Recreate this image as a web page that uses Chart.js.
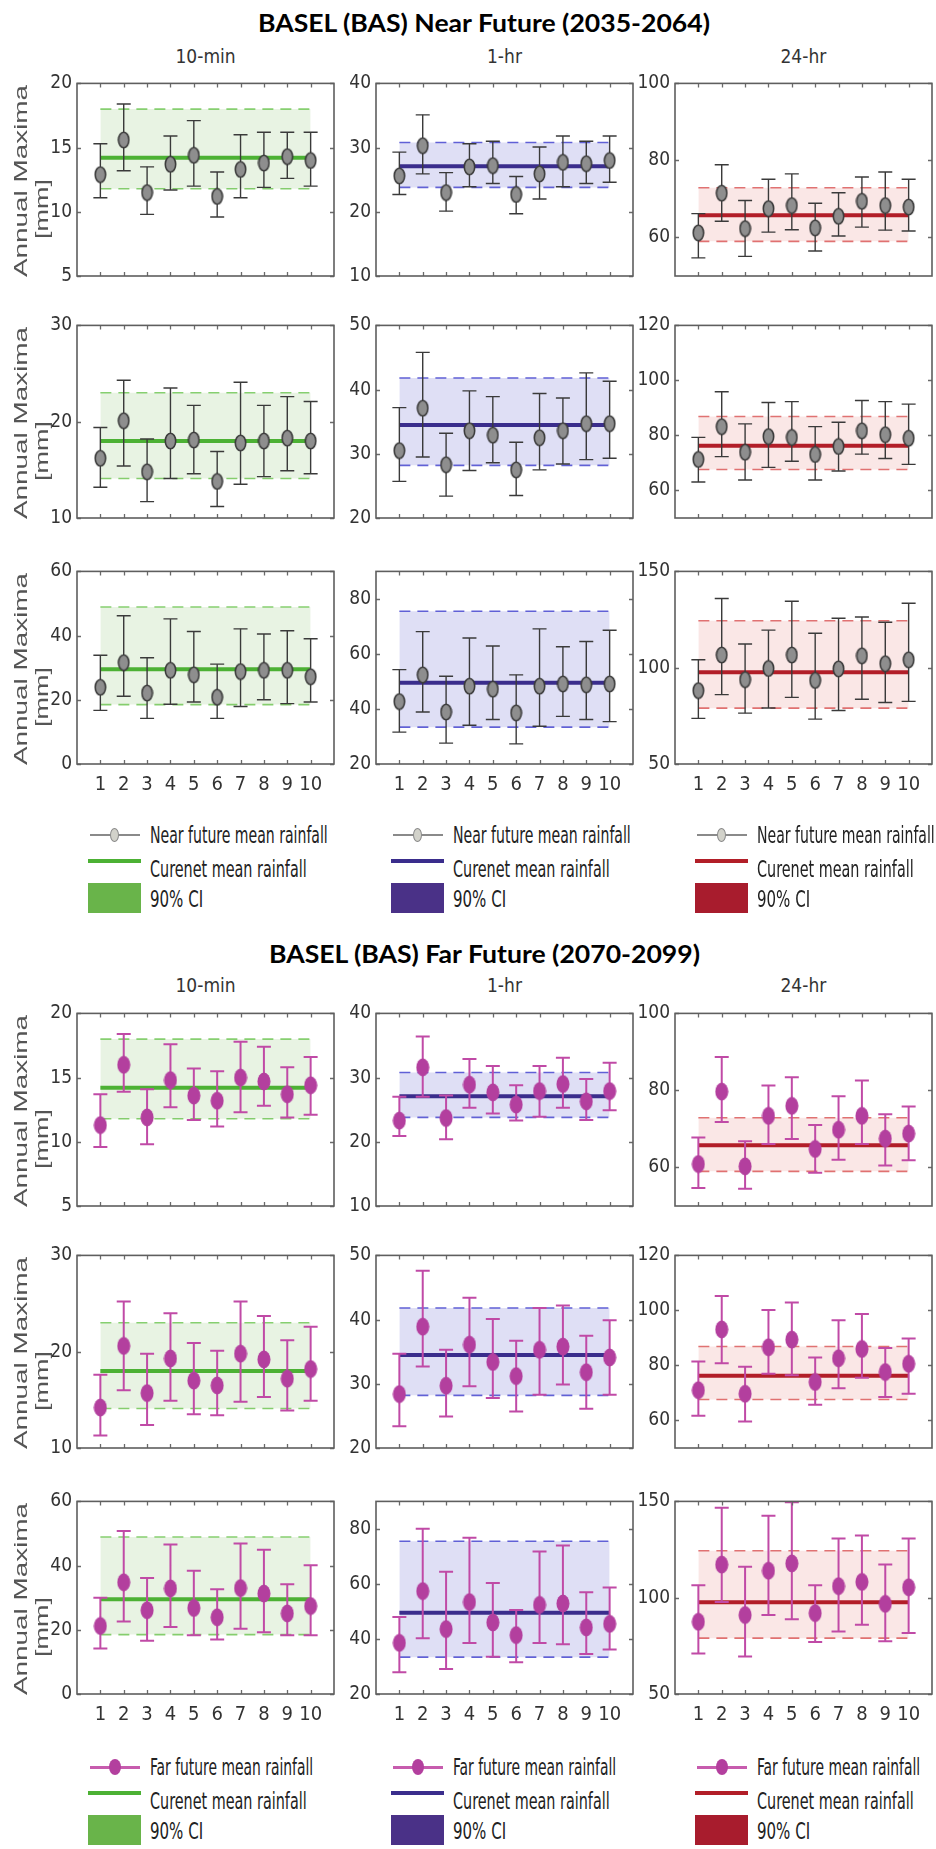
<!DOCTYPE html>
<html>
<head>
<meta charset="utf-8">
<script src="https://cdn.jsdelivr.net/npm/chart.js@4.4.1/dist/chart.umd.min.js"></script>
<style>
html,body{margin:0;padding:0;background:#fff;}
body{width:936px;height:1849px;position:relative;overflow:hidden;}
canvas{position:absolute;}
.lg{position:absolute;}
</style>
</head>
<body>
<script>
// ---------------- DATA ----------------
const xCats = [1, 2, 3, 4, 5, 6, 7, 8, 9, 10];
const durations = ['10-min', '1-hr', '24-hr'];
const sectionTitles = ['BASEL (BAS) Near Future (2035-2064)', 'BASEL (BAS) Far Future (2070-2099)'];

// current climate (shared by both sections): rows 1..3
const current_10min_mean = [14.2, 18.0, 29.5];
const current_10min_ciLo = [11.8, 14.1, 18.5];
const current_10min_ciHi = [18.0, 23.0, 48.9];
const current_1hr_mean = [27.1, 34.5, 49.5];
const current_1hr_ciLo = [23.8, 28.2, 33.4];
const current_1hr_ciHi = [30.8, 41.8, 75.5];
const current_24hr_mean = [65.8, 76.3, 97.6];
const current_24hr_ciLo = [59.0, 67.6, 79.0];
const current_24hr_ciHi = [72.9, 86.9, 124.4];

// y axis limits and tick labels per column, rows 1..3
const yRange_10min = [[5, 20], [10, 30], [0, 60]];
const yTicks_10min = [[5, 10, 15, 20], [10, 20, 30], [0, 20, 40, 60]];
const yRange_1hr = [[10, 40], [20, 50], [20, 90]];
const yTicks_1hr = [[10, 20, 30, 40], [20, 30, 40, 50], [20, 40, 60, 80]];
const yRange_24hr = [[50, 100], [50, 120], [50, 150]];
const yTicks_24hr = [[60, 80, 100], [60, 80, 100, 120], [50, 100, 150]];

// Near future
const near_10min_r1_mean = [12.9, 15.6, 11.5, 13.7, 14.4, 11.2, 13.3, 13.8, 14.3, 14.0];
const near_10min_r1_hi   = [15.3, 18.4, 13.5, 15.9, 17.1, 13.1, 16.0, 16.2, 16.2, 16.2];
const near_10min_r1_lo   = [11.1, 13.2, 9.8, 11.7, 12.0, 9.6, 11.1, 11.9, 12.6, 12.0];
const near_1hr_r1_mean = [25.6, 30.3, 23.0, 27.0, 27.2, 22.7, 25.9, 27.7, 27.5, 28.0];
const near_1hr_r1_hi   = [29.3, 35.1, 26.1, 30.6, 31.0, 25.5, 30.1, 31.8, 31.0, 31.8];
const near_1hr_r1_lo   = [22.7, 25.9, 20.1, 23.9, 24.4, 19.7, 22.0, 23.9, 24.4, 24.6];
const near_24hr_r1_mean = [61.2, 71.5, 62.3, 67.5, 68.3, 62.5, 65.5, 69.4, 68.3, 67.9];
const near_24hr_r1_hi   = [66.2, 78.9, 69.6, 75.1, 76.5, 68.9, 71.6, 75.7, 77.0, 75.1];
const near_24hr_r1_lo   = [54.7, 64.2, 55.1, 61.4, 62.0, 56.5, 60.4, 62.7, 61.9, 61.7];

const near_10min_r2_mean = [16.2, 20.1, 14.8, 18.0, 18.1, 13.8, 17.8, 18.0, 18.3, 18.0];
const near_10min_r2_hi   = [19.4, 24.3, 18.2, 23.5, 21.7, 16.9, 24.1, 21.7, 22.6, 22.1];
const near_10min_r2_lo   = [13.2, 15.4, 11.7, 14.1, 14.6, 11.2, 13.5, 14.3, 14.9, 14.6];
const near_1hr_r2_mean = [30.5, 37.1, 28.3, 33.6, 32.9, 27.5, 32.5, 33.6, 34.7, 34.7];
const near_1hr_r2_hi   = [37.2, 45.8, 33.2, 39.8, 38.9, 31.8, 39.4, 38.7, 42.6, 41.3];
const near_1hr_r2_lo   = [25.7, 29.5, 23.4, 27.4, 28.6, 23.5, 27.5, 28.4, 29.1, 29.3];
const near_24hr_r2_mean = [71.3, 83.2, 73.9, 79.6, 79.3, 73.1, 76.0, 81.7, 80.3, 79.0];
const near_24hr_r2_hi   = [79.3, 95.9, 84.2, 92.0, 92.3, 83.2, 84.8, 92.7, 92.3, 91.4];
const near_24hr_r2_lo   = [63.1, 72.3, 63.8, 68.4, 70.6, 63.8, 67.1, 73.2, 71.6, 69.5];

const near_10min_r3_mean = [23.9, 31.6, 22.1, 29.2, 27.8, 20.8, 28.8, 29.2, 29.2, 27.2];
const near_10min_r3_hi   = [33.9, 46.2, 33.1, 45.2, 41.3, 31.1, 42.1, 40.5, 41.5, 39.0];
const near_10min_r3_lo   = [16.7, 21.1, 14.2, 18.6, 19.3, 14.2, 17.9, 20.0, 18.8, 19.3];
const near_1hr_r3_mean = [42.7, 52.4, 38.9, 48.3, 47.2, 38.6, 48.3, 49.1, 48.8, 49.1];
const near_1hr_r3_hi   = [54.3, 68.1, 51.9, 65.8, 62.9, 52.4, 69.1, 62.6, 64.5, 68.6];
const near_1hr_r3_lo   = [31.6, 38.9, 27.6, 34.1, 36.2, 27.3, 33.7, 37.3, 36.2, 35.4];
const near_24hr_r3_mean = [88.1, 106.6, 93.8, 99.6, 106.6, 93.4, 99.4, 106.2, 102.1, 104.1];
const near_24hr_r3_hi   = [104.1, 135.9, 112.3, 119.5, 134.5, 117.9, 125.7, 126.3, 123.6, 133.5];
const near_24hr_r3_lo   = [73.7, 86.0, 76.4, 79.1, 84.6, 73.3, 77.8, 83.6, 81.9, 82.5];

// Far future
const far_10min_r1_mean = [11.3, 16.0, 11.9, 14.8, 13.6, 13.2, 15.0, 14.7, 13.7, 14.4];
const far_10min_r1_hi   = [13.7, 18.4, 14.1, 17.6, 15.7, 15.5, 17.8, 17.4, 15.8, 16.6];
const far_10min_r1_lo   = [9.6, 13.9, 9.8, 12.7, 11.7, 11.2, 12.3, 12.8, 11.9, 12.1];
const far_1hr_r1_mean = [23.3, 31.6, 23.7, 28.9, 27.7, 25.8, 27.9, 29.0, 26.3, 27.9];
const far_1hr_r1_hi   = [27.0, 36.4, 27.2, 32.9, 31.8, 28.8, 31.8, 33.1, 29.8, 32.3];
const far_1hr_r1_lo   = [20.9, 27.0, 20.4, 25.3, 24.4, 23.3, 23.9, 25.3, 23.4, 24.9];
const far_24hr_r1_mean = [60.9, 79.7, 60.3, 73.4, 76.0, 64.8, 69.8, 73.4, 67.5, 68.8];
const far_24hr_r1_hi   = [67.8, 88.7, 66.8, 81.3, 83.4, 71.0, 78.5, 82.6, 73.8, 75.8];
const far_24hr_r1_lo   = [54.7, 71.8, 54.5, 66.1, 67.4, 58.6, 62.0, 66.1, 60.5, 61.9];

const far_10min_r2_mean = [14.2, 20.6, 15.7, 19.3, 17.0, 16.5, 19.8, 19.2, 17.2, 18.2];
const far_10min_r2_hi   = [17.6, 25.2, 19.8, 24.0, 20.9, 20.1, 25.2, 23.7, 21.2, 22.6];
const far_10min_r2_lo   = [11.3, 16.0, 12.4, 14.9, 13.5, 13.4, 14.8, 15.3, 13.9, 14.9];
const far_1hr_r2_mean = [28.4, 38.9, 29.7, 36.1, 33.4, 31.2, 35.3, 35.8, 31.8, 34.1];
const far_1hr_r2_hi   = [34.7, 47.6, 35.3, 43.4, 40.1, 36.7, 41.8, 42.2, 37.5, 39.9];
const far_1hr_r2_lo   = [23.4, 32.7, 24.9, 29.6, 27.8, 25.7, 28.3, 29.9, 26.1, 28.3];
const far_24hr_r2_mean = [71.0, 93.1, 69.7, 86.6, 89.4, 74.0, 82.6, 86.0, 77.6, 80.6];
const far_24hr_r2_hi   = [81.4, 105.2, 79.5, 100.2, 102.9, 82.9, 96.4, 98.7, 86.3, 89.8];
const far_24hr_r2_lo   = [61.7, 80.8, 59.6, 77.0, 76.4, 65.7, 71.7, 75.5, 68.5, 69.7];

const far_10min_r3_mean = [21.2, 34.8, 26.1, 32.9, 26.8, 23.9, 33.0, 31.3, 25.1, 27.4];
const far_10min_r3_hi   = [30.0, 50.8, 36.1, 46.6, 38.4, 32.6, 46.9, 44.9, 34.2, 40.1];
const far_10min_r3_lo   = [14.2, 22.6, 16.6, 20.9, 18.3, 17.0, 20.3, 19.2, 18.3, 18.3];
const far_1hr_r3_mean = [38.6, 57.4, 43.6, 53.4, 46.0, 41.4, 52.4, 52.9, 44.2, 45.5];
const far_1hr_r3_hi   = [48.0, 80.1, 64.4, 76.8, 60.3, 50.5, 71.8, 74.0, 57.0, 58.7];
const far_1hr_r3_lo   = [27.9, 40.3, 29.1, 38.5, 33.5, 31.5, 38.5, 38.1, 34.5, 36.2];
const far_24hr_r3_mean = [87.5, 117.2, 91.0, 114.0, 117.8, 92.0, 106.0, 108.2, 96.8, 105.4];
const far_24hr_r3_hi   = [106.5, 146.7, 116.1, 142.6, 149.5, 106.5, 130.8, 132.3, 117.2, 130.8];
const far_24hr_r3_lo   = [71.0, 97.8, 69.5, 91.0, 88.8, 77.0, 82.4, 86.0, 77.4, 81.7];

const legendFutureLabels = ['Near future mean rainfall', 'Far future mean rainfall'];
const legendCurrentLabel = 'Curenet mean rainfall';
const legendCILabel = '90% CI';

// ---------------- TABLES BUILT FROM DATA ----------------
const sets = [
  [ // near
    [[near_10min_r1_mean, near_10min_r1_hi, near_10min_r1_lo], [near_10min_r2_mean, near_10min_r2_hi, near_10min_r2_lo], [near_10min_r3_mean, near_10min_r3_hi, near_10min_r3_lo]],
    [[near_1hr_r1_mean, near_1hr_r1_hi, near_1hr_r1_lo], [near_1hr_r2_mean, near_1hr_r2_hi, near_1hr_r2_lo], [near_1hr_r3_mean, near_1hr_r3_hi, near_1hr_r3_lo]],
    [[near_24hr_r1_mean, near_24hr_r1_hi, near_24hr_r1_lo], [near_24hr_r2_mean, near_24hr_r2_hi, near_24hr_r2_lo], [near_24hr_r3_mean, near_24hr_r3_hi, near_24hr_r3_lo]]
  ],
  [ // far
    [[far_10min_r1_mean, far_10min_r1_hi, far_10min_r1_lo], [far_10min_r2_mean, far_10min_r2_hi, far_10min_r2_lo], [far_10min_r3_mean, far_10min_r3_hi, far_10min_r3_lo]],
    [[far_1hr_r1_mean, far_1hr_r1_hi, far_1hr_r1_lo], [far_1hr_r2_mean, far_1hr_r2_hi, far_1hr_r2_lo], [far_1hr_r3_mean, far_1hr_r3_hi, far_1hr_r3_lo]],
    [[far_24hr_r1_mean, far_24hr_r1_hi, far_24hr_r1_lo], [far_24hr_r2_mean, far_24hr_r2_hi, far_24hr_r2_lo], [far_24hr_r3_mean, far_24hr_r3_hi, far_24hr_r3_lo]]
  ]
];
const currentMean = [current_10min_mean, current_1hr_mean, current_24hr_mean];
const currentLo = [current_10min_ciLo, current_1hr_ciLo, current_24hr_ciLo];
const currentHi = [current_10min_ciHi, current_1hr_ciHi, current_24hr_ciHi];
const yRanges = [yRange_10min, yRange_1hr, yRange_24hr];
const yTickSets = [yTicks_10min, yTicks_1hr, yTicks_24hr];

// ---------------- STYLE / LAYOUT ----------------
const NARROW = "'Liberation Sans Narrow', 'DejaVu Sans Condensed', 'Arial Narrow', sans-serif";
const COL_L = [77, 376, 675], COL_W = 257;
const ROW_T = [81, 323, 569], ROW_H = 195;
const SEC_DY = [0, 930];
const colStyle = [
  {line: '#4cb134', dash: '#86cf70', band: 'rgba(120,185,90,0.17)', patch: '#69b44a'},
  {line: '#3a2d8c', dash: '#6060d6', band: 'rgba(120,120,215,0.24)', patch: '#4a3187'},
  {line: '#b21e28', dash: '#e07272', band: 'rgba(225,115,105,0.17)', patch: '#a81c2d'}
];
const secStyle = [
  {bar: '#3a3a3a', barW: 1.4, marker: null, legendLine: '#8a8a8a', legendLineW: 1.5},
  {bar: '#c04aa6', barW: 2, marker: null, legendLine: '#c75cae', legendLineW: 3}
];

function makeEllipse(w, h, fill, stroke, lw) {
  const c = document.createElement('canvas');
  c.width = w; c.height = h;
  const g = c.getContext('2d');
  const m = (lw || 0) / 2 + 0.5;
  g.beginPath();
  g.ellipse(w / 2, h / 2, w / 2 - m, h / 2 - m, 0, 0, Math.PI * 2);
  g.fillStyle = fill; g.fill();
  if (stroke) { g.lineWidth = lw; g.strokeStyle = stroke; g.stroke(); }
  return c;
}
secStyle[0].marker = makeEllipse(13, 18, '#8e8e8e', '#3c3c3c', 1.6);
secStyle[1].marker = makeEllipse(14, 19, '#b33f9e', null, 0);

Chart.defaults.font.family = NARROW;
Chart.defaults.color = '#333';

const framePlugin = {
  id: 'frame',
  afterDatasetsDraw(chart) {
    const {ctx, chartArea: a, scales: {x, y}} = chart;
    ctx.save();
    ctx.strokeStyle = '#6a6a6a';
    ctx.lineWidth = 1.3;
    ctx.beginPath();
    x.ticks.forEach(t => {
      const px = Math.round(x.getPixelForValue(t.value)) + 0.5;
      ctx.moveTo(px, a.bottom); ctx.lineTo(px, a.bottom - 4);
      ctx.moveTo(px, a.top); ctx.lineTo(px, a.top + 4);
    });
    y.ticks.forEach(t => {
      const py = Math.round(y.getPixelForValue(t.value)) + 0.5;
      ctx.moveTo(a.left, py); ctx.lineTo(a.left + 4, py);
      ctx.moveTo(a.right, py); ctx.lineTo(a.right - 4, py);
    });
    ctx.stroke();
    ctx.lineWidth = 1.6;
    ctx.strokeStyle = '#5e5e5e';
    ctx.strokeRect(a.left, a.top, a.width, a.height);
    ctx.restore();
  }
};

function panel(sec, col, row) {
  const L = COL_L[col], T = ROW_T[row] + SEC_DY[sec];
  const PADL = 70, PADT = 14, PADR = 14, PADB = 40;
  const cv = document.createElement('canvas');
  cv.width = COL_W + PADL + PADR;
  cv.height = ROW_H + PADT + PADB;
  cv.style.left = (L - PADL) + 'px';
  cv.style.top = (T - PADT) + 'px';
  cv.style.width = cv.width + 'px';
  cv.style.height = cv.height + 'px';
  document.body.appendChild(cv);

  const [mean, hi, lo] = sets[sec][col][row];
  const cs = colStyle[col], ss = secStyle[sec];
  const first = xCats[0], last = xCats[xCats.length - 1];

  const markers = xCats.map((x, i) => ({x, y: mean[i]}));
  const bars = [];
  xCats.forEach((x, i) => { bars.push({x, y: lo[i]}, {x, y: hi[i]}, {x, y: null}); });
  const meanLine = [{x: first, y: currentMean[col][row]}, {x: last, y: currentMean[col][row]}];
  const ciHi = [{x: first, y: currentHi[col][row]}, {x: last, y: currentHi[col][row]}];
  const ciLo = [{x: first, y: currentLo[col][row]}, {x: last, y: currentLo[col][row]}];

  new Chart(cv, {
    type: 'line',
    data: {
      datasets: [
        {data: markers, showLine: false, pointStyle: ss.marker, pointRadius: 7, borderWidth: 0},
        {data: bars, spanGaps: false, borderColor: ss.bar, borderWidth: ss.barW, pointStyle: 'line',
          pointRadius: 7, pointBorderWidth: ss.barW, pointBorderColor: ss.bar, fill: false},
        {data: meanLine, borderColor: cs.line, borderWidth: 4, pointRadius: 0, fill: false},
        {data: ciHi, borderColor: cs.dash, borderWidth: 1.6, borderDash: [11, 7], pointRadius: 0,
          fill: '+1', backgroundColor: cs.band},
        {data: ciLo, borderColor: cs.dash, borderWidth: 1.6, borderDash: [11, 7], pointRadius: 0, fill: false}
      ]
    },
    options: {
      responsive: false,
      animation: false,
      events: [],
      devicePixelRatio: 1,
      layout: {padding: {left: 0, top: PADT, right: PADR, bottom: 0}},
      plugins: {legend: {display: false}, tooltip: {enabled: false}},
      scales: {
        x: {
          type: 'linear', min: 0, max: 11,
          grid: {display: false, drawTicks: false},
          border: {display: false},
          afterBuildTicks: s => { s.ticks = xCats.map(v => ({value: v})); },
          afterFit: s => { s.height = PADB; },
          ticks: {display: row === 2, padding: 9, font: {size: 20, family: NARROW}, color: '#333', maxRotation: 0, autoSkip: false}
        },
        y: {
          min: yRanges[col][row][0], max: yRanges[col][row][1],
          grid: {display: false, drawTicks: false},
          border: {display: false},
          afterBuildTicks: s => { s.ticks = yTickSets[col][row].map(v => ({value: v})); },
          afterFit: s => { s.width = PADL; },
          ticks: {padding: 5, font: {size: 19, family: NARROW}, color: '#333', autoSkip: false}
        }
      }
    },
    plugins: [framePlugin]
  });
}

// ---------------- TEXT HELPERS ----------------
function addText(txt, x, y, size, opts) {
  opts = opts || {};
  const el = document.createElement('div');
  el.textContent = txt;
  el.style.cssText = 'position:absolute;left:0;top:0;white-space:nowrap;line-height:1;' +
    'font-size:' + size + 'px;font-family:' + (opts.family || NARROW) + ';font-weight:' + (opts.weight || 400) +
    ';color:' + (opts.color || '#333') + ';';
  document.body.appendChild(el);
  const w = el.offsetWidth, h = el.offsetHeight;
  const s = opts.width ? opts.width / w : 1;
  if (opts.align === 'left') {
    el.style.left = x + 'px';
    el.style.top = (y - h / 2) + 'px';
    el.style.transformOrigin = '0 50%';
    el.style.transform = 'scaleX(' + s + ')';
  } else {
    el.style.left = (x - w / 2) + 'px';
    el.style.top = (y - h / 2) + 'px';
    el.style.transformOrigin = '50% 50%';
    el.style.transform = (opts.rotate ? 'rotate(-90deg) ' : '') + 'scaleX(' + s + ')';
  }
  return el;
}
function addBox(x, y, w, h, css) {
  const d = document.createElement('div');
  d.className = 'lg';
  d.style.cssText += 'left:' + x + 'px;top:' + y + 'px;width:' + w + 'px;height:' + h + 'px;' + css;
  document.body.appendChild(d);
  return d;
}

// ---------------- BUILD ----------------
const titleY = [23, 954];
const titleW = [452, 431];
const headY = [56, 985];
const legendX = [90, 393, 697];
const legendY = [835, 1767];
const futureTextW = [178, 163];

for (let sec = 0; sec < 2; sec++) {
  addText(sectionTitles[sec], 484, titleY[sec], 24, {family: "Lato, 'Open Sans', sans-serif", weight: 700, color: '#000', width: titleW[sec]});
  for (let col = 0; col < 3; col++) {
    addText(durations[col], COL_L[col] + COL_W / 2, headY[sec], 19, {color: '#333'});
    for (let row = 0; row < 3; row++) panel(sec, col, row);
  }
  for (let row = 0; row < 3; row++) {
    const cy = ROW_T[row] + SEC_DY[sec] + ROW_H / 2;
    addText('Annual Maxima', 21, cy + 2, 18, {family: "'Liberation Sans', Arial, sans-serif", rotate: true, width: 192, color: '#555'});
    addText('[mm]', 42, cy + 30, 18, {family: "'Liberation Sans', Arial, sans-serif", rotate: true, width: 60, color: '#555'});
  }
  // legends
  const ss = secStyle[sec];
  for (let col = 0; col < 3; col++) {
    const L = legendX[col], B = legendY[sec], cs = colStyle[col];
    addBox(L, B - ss.legendLineW / 2, 50, ss.legendLineW, 'background:' + ss.legendLine + ';');
    if (sec === 0) addBox(L + 20, B - 7, 9, 14, 'background:#d2d2ca;border:1px solid #8a8a8a;border-radius:50%;box-sizing:border-box;');
    else addBox(L + 19, B - 8, 12, 16, 'background:#b33f9e;border-radius:50%;');
    addText(legendFutureLabels[sec], L + 60, B, 23, {align: 'left', width: futureTextW[sec], color: '#222'});
    addBox(L - 2, B + 24, 53, 4, 'background:' + cs.line + ';');
    addText(legendCurrentLabel, L + 60, B + 34, 23, {align: 'left', width: 157, color: '#222'});
    addBox(L - 2, B + 48, 53, 30, 'background:' + cs.patch + ';');
    addText(legendCILabel, L + 60, B + 64, 23, {align: 'left', width: 53, color: '#222'});
  }
}
</script>
</body>
</html>
